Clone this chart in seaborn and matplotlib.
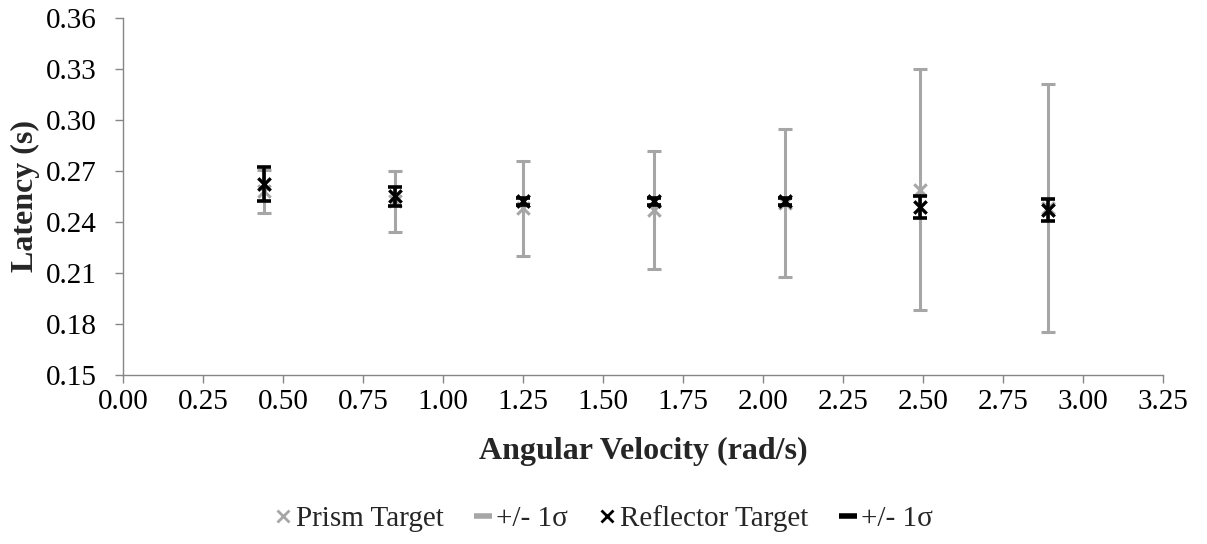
import numpy as np
import pandas as pd
import matplotlib
matplotlib.use("Agg")
import matplotlib.pyplot as plt
import seaborn as sns
from matplotlib.lines import Line2D

# data
velocity = [0.44, 0.85, 1.25, 1.66, 2.07, 2.49, 2.89]
prism_mean = [0.258, 0.252, 0.248, 0.247, 0.251, 0.259, 0.248]
prism_sd = [0.0125, 0.018, 0.028, 0.0345, 0.0435, 0.071, 0.073]
reflector_mean = [0.262, 0.255, 0.252, 0.252, 0.252, 0.249, 0.247]
reflector_sd = [0.010, 0.0055, 0.002, 0.002, 0.002, 0.0065, 0.0065]

grey = "#a6a6a6"

sns.set_style("white")
plt.rcParams['font.family'] = ['Liberation Serif', 'DejaVu Serif']

df = pd.DataFrame({"velocity": velocity, "prism": prism_mean, "reflector": reflector_mean})

fig = plt.figure(figsize=(12.07, 5.44), dpi=100)
ax = fig.add_axes([0.102, 0.311, 0.8616, 0.656])

ax.errorbar(velocity, prism_mean, yerr=prism_sd, fmt='none', ecolor=grey,
            elinewidth=2.2, capsize=5, capthick=2.2, zorder=2)
sns.scatterplot(data=df, x="velocity", y="prism", marker='x', color=grey,
                s=80, linewidth=2.2, ax=ax, zorder=3)
ax.errorbar(velocity, reflector_mean, yerr=reflector_sd, fmt='none', ecolor='black',
            elinewidth=2.6, capsize=5, capthick=2.6, zorder=4)
sns.scatterplot(data=df, x="velocity", y="reflector", marker='x', color='black',
                s=80, linewidth=2.4, ax=ax, zorder=5)

ax.set_xlim(0, 3.25)
ax.set_ylim(0.15, 0.36)
ax.set_xticks(np.arange(0, 3.26, 0.25))
ax.set_yticks(np.arange(0.15, 0.361, 0.03))
ax.xaxis.set_major_formatter(matplotlib.ticker.FormatStrFormatter('%.2f'))
ax.yaxis.set_major_formatter(matplotlib.ticker.FormatStrFormatter('%.2f'))

for side in ['top', 'right']:
    ax.spines[side].set_visible(False)
for side in ['left', 'bottom']:
    ax.spines[side].set_color('#868686')
    ax.spines[side].set_linewidth(1.0)
ax.tick_params(axis='both', direction='out', length=6, width=1.0, color='#868686',
               labelsize=21, labelcolor='black', bottom=True, left=True)
ax.tick_params(axis='x', pad=4)
ax.tick_params(axis='y', pad=13)

ax.set_xlabel("Angular Velocity (rad/s)", fontsize=23, fontweight='bold', labelpad=16)
ax.set_ylabel("Latency (s)", fontsize=23, fontweight='bold', labelpad=4)

handles = [
    Line2D([], [], marker='x', color=grey, linestyle='none', markersize=9, markeredgewidth=2),
    Line2D([], [], color=grey, linewidth=4, solid_capstyle='butt'),
    Line2D([], [], marker='x', color='black', linestyle='none', markersize=9, markeredgewidth=2),
    Line2D([], [], color='black', linewidth=4, solid_capstyle='butt'),
]
labels = ["Prism Target", "+/- 1\u03c3", "Reflector Target", "+/- 1\u03c3"]
fig.legend(handles, labels, loc='center', bbox_to_anchor=(0.5, 0.047), ncol=4,
           frameon=False, fontsize=21, handlelength=0.6, handletextpad=0.15,
           columnspacing=1.05)

fig.savefig("out.png", dpi=100)
